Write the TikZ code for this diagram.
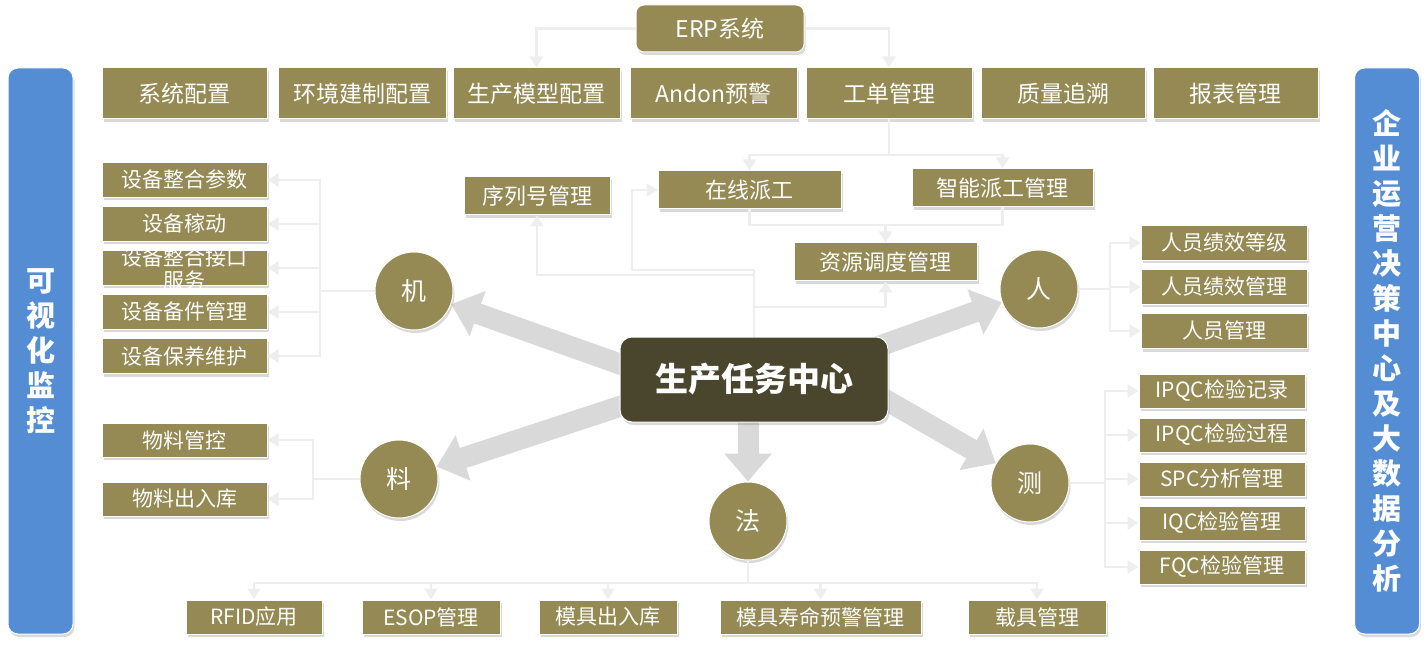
\documentclass[tikz,border=0pt]{standalone}
\usepackage{fontspec}
\newfontfamily\cjk{Noto Sans CJK SC}
\usetikzlibrary{shadows,arrows.meta,backgrounds,calc}
\definecolor{olv}{RGB}{149,137,84}
\definecolor{dk}{RGB}{74,69,45}
\definecolor{blu}{RGB}{84,141,212}
\definecolor{lnc}{RGB}{238,238,238}
\definecolor{fatc}{RGB}{217,217,217}
\tikzset{
  shad/.style={drop shadow={shadow xshift=1.5pt,shadow yshift=-3pt,opacity=0.3}},
  box/.style={draw=white, line width=1pt, fill=olv, text=white, inner sep=0pt, shad},
  topbox/.style={box, minimum height=51pt, font=\cjk\fontsize{23}{25}\selectfont},
  midbox/.style={box, minimum height=38pt, font=\cjk\fontsize{22}{24}\selectfont},
  sidebox/.style={box, minimum width=165pt, minimum height=35pt, font=\cjk\fontsize{21}{23}\selectfont},
  rbox/.style={box, minimum width=166pt, minimum height=35pt, font=\cjk\fontsize{21}{23}\selectfont},
  botbox/.style={box, minimum height=34pt, font=\cjk\fontsize{21}{23}\selectfont},
  circ/.style={circle, draw=white, line width=1pt, fill=olv, text=white, minimum size=78pt, inner sep=0pt, font=\cjk\fontsize{25}{27}\selectfont, shad},
  bar/.style={rounded corners=10pt, fill=blu, draw=white, line width=1pt, minimum width=65pt, minimum height=566pt, text=white, align=center, inner sep=0pt, font=\cjk\bfseries\fontsize{29}{35}\selectfont, shad},
  conn/.style={draw=lnc, line width=2.5pt, -{Triangle[width=13pt,length=11pt]}},
  link/.style={draw=lnc, line width=2.5pt},
  fat/.style={draw=fatc, line width=21pt, -{Triangle[width=46pt,length=28pt]}},
}
\begin{document}
\begin{tikzpicture}[x=1pt,y=-1pt]
\useasboundingbox (0,0) rectangle (1427,652);

% side bars
\node[bar] (lbar) at (40.5,351) {可\\视\\化\\监\\控};
\node[bar] (rbar) at (1387,351) {企\\业\\运\\营\\决\\策\\中\\心\\及\\大\\数\\据\\分\\析};

% ERP
\node[box, rounded corners=8pt, minimum width=168pt, minimum height=47pt, font=\cjk\fontsize{23}{25}\selectfont] (erp) at (720,28.5) {ERP系统};

% top row
\node[topbox, minimum width=165pt] (sys) at (184.5,93.5) {系统配置};
\node[topbox, minimum width=168pt] (env) at (362,93.5) {环境建制配置};
\node[topbox, minimum width=167pt] (model) at (536.5,93.5) {生产模型配置};
\node[topbox, minimum width=167pt] (andon) at (713.5,93.5) {Andon预警};
\node[topbox, minimum width=166pt] (wo) at (889,93.5) {工单管理};
\node[topbox, minimum width=164pt] (qt) at (1063,93.5) {质量追溯};
\node[topbox, minimum width=165pt] (rep) at (1235.5,93.5) {报表管理};

% middle boxes
\node[midbox, minimum width=146pt] (serial) at (537,196) {序列号管理};
\node[midbox, minimum width=183pt] (online) at (749.5,190) {在线派工};
\node[midbox, minimum width=181pt] (smart) at (1002.5,188) {智能派工管理};
\node[midbox, minimum width=183pt] (res) at (885.5,262) {资源调度管理};

% center
\node[rounded corners=12pt, fill=dk, draw=white, line width=1pt, minimum width=268pt, minimum height=85pt, text=white, font=\cjk\bfseries\fontsize{33}{37}\selectfont, shad] (core) at (754,379.5) {生产任务中心};

% circles
\node[circ] (ji) at (414,291) {机};
\node[circ] (liao) at (399,479) {料};
\node[circ] (fa) at (748,521) {法};
\node[circ] (ren) at (1039,289) {人};
\node[circ] (ce) at (1030,483) {测};

% machine boxes
\node[sidebox] (m1) at (184.5,180) {设备整合参数};
\node[sidebox] (m2) at (184.5,224) {设备稼动};
\node[sidebox] (m3) at (184.5,268) {};
\node[text=white, align=center, inner sep=0pt, font=\cjk\fontsize{21}{23}\selectfont] (m3t) at (184.5,268.5) {设备整合接口\\服务};
\node[sidebox] (m4) at (184.5,312) {设备备件管理};
\node[sidebox] (m5) at (184.5,356) {设备保养维护};

% material boxes
\node[sidebox, minimum height=34pt] (l1) at (184.5,440) {物料管控};
\node[sidebox, minimum height=34pt] (l2) at (184.5,499) {物料出入库};

% people boxes
\node[rbox] (r1) at (1224,243) {人员绩效等级};
\node[rbox] (r2) at (1224,287) {人员绩效管理};
\node[rbox] (r3) at (1224,331) {人员管理};

% measure boxes
\node[rbox, minimum height=34pt] (q1) at (1222,391) {IPQC检验记录};
\node[rbox, minimum height=34pt] (q2) at (1222,435) {IPQC检验过程};
\node[rbox, minimum height=34pt] (q3) at (1222,479) {SPC分析管理};
\node[rbox, minimum height=34pt] (q4) at (1222,523) {IQC检验管理};
\node[rbox, minimum height=34pt] (q5) at (1222,567) {FQC检验管理};

% bottom boxes
\node[botbox, minimum width=136pt] (b1) at (254,617) {RFID应用};
\node[botbox, minimum width=138pt] (b2) at (431,617) {ESOP管理};
\node[botbox, minimum width=138pt] (b3) at (608,617) {模具出入库};
\node[botbox, minimum width=201pt] (b4) at (820.5,617) {模具寿命预警管理};
\node[botbox, minimum width=138pt] (b5) at (1037,617) {载具管理};

% fat arrows
\begin{scope}[on background layer]
\draw[fat] ([xshift=20pt,yshift=8.5pt]core.west) -- (ji);
\draw[fat] ([xshift=20pt,yshift=-20.5pt]core.west) -- (liao);
\draw[fat] ([xshift=-6pt,yshift=10pt]core.south) -- (fa);
\draw[fat] ([xshift=-20pt,yshift=29.5pt]core.east) -- (ren);
\draw[fat] ([xshift=-20pt,yshift=-10.5pt]core.east) -- (ce);
\end{scope}

% ERP connectors
\draw[conn] (erp.west) -| (model.north);
\draw[conn] (erp.east) -| (wo.north);

% work order connectors
\coordinate (j1) at (889,155);
\draw[link] (wo.south) -- (j1);
\draw[conn] (j1) -| (online.north);
\draw[conn] (j1) -| (smart.north);
\coordinate (j2) at (885.5,225);
\draw[link] (online.south) |- (j2);
\draw[link] (smart.south) |- (j2);
\draw[conn] (j2) -- (res.north);

% center top connectors
\coordinate (t0) at (754,275);
\coordinate (t1) at (754,270);
\coordinate (t2) at (754,307);
\coordinate (t3) at (632,270);
\draw[link] (core.north) -- (t1);
\draw[conn] (t0) -| (serial.south);
\draw[conn] (t1) -- (t3) |- (online.west);
\draw[conn] (t2) -| (res.south);

% machine
\coordinate (mj) at (320,291);
\draw[link] (ji.west) -- (mj);
\foreach \n in {m1,m2,m3,m4,m5} \draw[conn] (mj) |- (\n.east);

% material
\coordinate (lj) at (313,479);
\draw[link] (liao.west) -- (lj);
\foreach \n in {l1,l2} \draw[conn] (lj) |- (\n.east);

% people
\coordinate (rj) at (1110,289);
\draw[link] (ren.east) -- (rj);
\foreach \n in {r1,r2,r3} \draw[conn] (rj) |- (\n.west);

% measure
\coordinate (cj) at (1105,483);
\draw[link] (ce.east) -- (cj);
\foreach \n in {q1,q2,q3,q4,q5} \draw[conn] (cj) |- (\n.west);

% method
\coordinate (fj) at (748,583);
\draw[link] (fa.south) -- (fj);
\foreach \n in {b1,b2,b3,b4,b5} \draw[conn] (fj) -| (\n.north);
\end{tikzpicture}
\end{document}
